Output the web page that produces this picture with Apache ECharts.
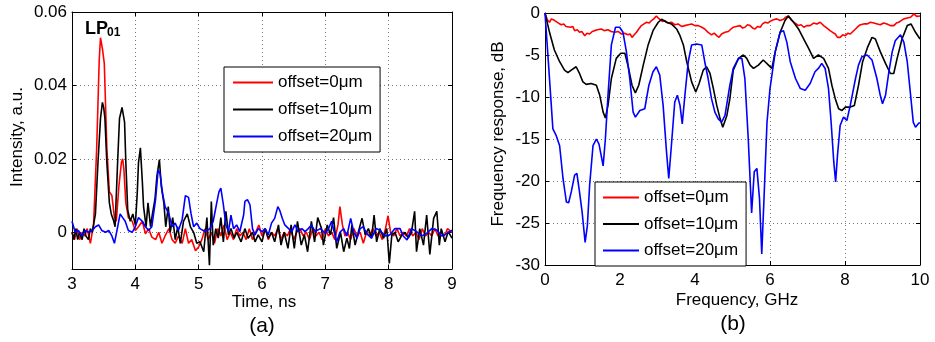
<!DOCTYPE html>
<html>
<head>
<meta charset="utf-8">
<script src="https://cdn.jsdelivr.net/npm/echarts@6/dist/echarts.min.js"></script>
<style>
  html, body { margin: 0; padding: 0; background: #fff; }
  #chart { width: 935px; height: 342px; }
</style>
</head>
<body>
<div id="chart"></div>
<script>
// series names (legend)
const names = ['offset=0μm', 'offset=10μm', 'offset=20μm'];
const colors = ['#ff0000', '#000000', '#0000ff'];

// (a) impulse response, [time ns, intensity a.u.]
const pulse0 = [[3.00,0.000],[3.04,-0.002],[3.08,0.001],[3.12,-0.002],[3.16,0.000],[3.20,-0.001],[3.24,0.001],[3.29,-0.003],[3.34,0.002],[3.39,0.023],[3.43,0.047],[3.45,0.053],[3.48,0.050],[3.51,0.046],[3.55,0.023],[3.59,0.011],[3.63,0.010],[3.67,0.004],[3.70,0.003],[3.74,0.0125],[3.78,0.019],[3.80,0.020],[3.82,0.017],[3.85,0.008],[3.89,0.004],[3.95,0.003],[4.00,0.0005],[4.05,0.0015],[4.11,0.003],[4.16,-0.0004],[4.21,0.001],[4.26,-0.0013],[4.32,-0.002],[4.37,0.000],[4.42,-0.003],[4.47,-0.001],[4.53,0.001],[4.58,-0.002],[4.63,-0.003],[4.68,-0.001],[4.74,-0.003],[4.79,0.001],[4.84,-0.003],[4.89,-0.002],[4.95,-0.005],[5.00,-0.004],[5.05,-0.002],[5.10,0.001],[5.15,-0.002],[5.20,0.000],[5.25,-0.003],[5.30,0.001],[5.35,-0.001],[5.40,0.002],[5.45,-0.002],[5.50,0.000],[5.55,-0.002],[5.60,0.001],[5.65,-0.001],[5.70,0.000],[5.75,-0.002],[5.80,0.001],[5.85,-0.002],[5.90,0.000],[5.95,0.002],[6.00,-0.001],[6.05,0.001],[6.10,-0.002],[6.15,0.000],[6.20,-0.001],[6.25,0.001],[6.30,-0.002],[6.35,0.000],[6.40,-0.001],[6.45,0.001],[6.50,-0.002],[6.55,0.000],[6.60,0.001],[6.65,-0.001],[6.70,0.000],[6.75,-0.002],[6.80,0.001],[6.85,-0.001],[6.90,0.000],[6.95,-0.002],[7.00,0.001],[7.05,-0.001],[7.10,0.000],[7.15,-0.002],[7.20,0.002],[7.23,0.007],[7.27,0.002],[7.31,-0.001],[7.35,0.000],[7.40,-0.002],[7.45,0.001],[7.50,-0.001],[7.55,0.000],[7.60,-0.003],[7.65,0.000],[7.70,-0.001],[7.75,0.001],[7.80,-0.001],[7.85,0.000],[7.90,-0.002],[7.95,0.001],[7.99,0.0045],[8.03,0.000],[8.08,-0.001],[8.13,0.001],[8.18,-0.001],[8.23,0.000],[8.28,-0.001],[8.33,0.001],[8.38,-0.001],[8.43,0.000],[8.48,-0.002],[8.53,0.001],[8.58,-0.001],[8.63,0.000],[8.68,-0.001],[8.73,0.001],[8.78,-0.001],[8.83,0.000],[8.88,-0.001],[8.93,0.001],[9.00,0.000]];
const pulse10 = [[3.00,0.000],[3.03,-0.002],[3.06,0.001],[3.09,-0.002],[3.12,0.000],[3.16,-0.002],[3.19,0.001],[3.22,-0.001],[3.26,-0.002],[3.29,0.001],[3.32,0.000],[3.37,0.005],[3.41,0.019],[3.45,0.031],[3.48,0.0354],[3.50,0.034],[3.52,0.031],[3.55,0.019],[3.59,0.008],[3.62,0.005],[3.66,0.003],[3.68,0.0015],[3.72,0.019],[3.75,0.031],[3.79,0.034],[3.83,0.030],[3.85,0.019],[3.88,0.006],[3.92,0.003],[3.96,0.005],[4.00,0.002],[4.03,0.0106],[4.05,0.019],[4.08,0.023],[4.11,0.014],[4.13,0.007],[4.17,0.0015],[4.20,0.008],[4.24,0.0015],[4.27,0.005],[4.31,0.009],[4.34,0.0152],[4.38,0.0198],[4.41,0.0125],[4.45,0.008],[4.48,0.0015],[4.52,0.007],[4.55,0.000],[4.59,0.004],[4.63,-0.002],[4.67,0.0015],[4.71,-0.003],[4.76,0.003],[4.82,0.005],[4.87,0.0015],[4.92,0.000],[4.97,-0.003],[5.02,-0.0026],[5.08,-0.0053],[5.13,0.004],[5.17,-0.009],[5.20,0.0084],[5.23,-0.0035],[5.27,0.001],[5.31,-0.0016],[5.35,0.004],[5.39,-0.0026],[5.43,0.0057],[5.47,-0.0007],[5.51,0.001],[5.56,-0.0016],[5.60,0.000],[5.67,-0.0026],[5.73,0.001],[5.78,-0.0016],[5.85,0.000],[5.89,-0.0026],[5.94,-0.0007],[6.00,-0.0026],[6.05,0.001],[6.10,-0.0016],[6.15,0.000],[6.20,-0.0026],[6.26,0.002],[6.30,-0.0035],[6.35,0.000],[6.41,-0.0044],[6.46,0.002],[6.51,-0.0044],[6.56,0.003],[6.62,-0.0035],[6.67,-0.0007],[6.72,-0.0053],[6.78,0.003],[6.83,-0.0026],[6.88,0.004],[6.94,0.001],[6.97,-0.0035],[7.03,0.002],[7.08,-0.0007],[7.13,0.004],[7.18,-0.0044],[7.24,0.000],[7.29,-0.0053],[7.34,-0.0016],[7.38,-0.0044],[7.42,0.002],[7.47,-0.0035],[7.52,0.000],[7.58,0.0038],[7.63,-0.0007],[7.68,0.001],[7.73,-0.0016],[7.77,0.0047],[7.81,-0.0026],[7.86,0.001],[7.92,-0.0016],[7.97,0.001],[8.01,-0.0085],[8.05,-0.0007],[8.10,0.000],[8.15,-0.0026],[8.21,-0.0007],[8.26,0.000],[8.31,-0.0016],[8.36,0.000],[8.41,0.0057],[8.44,-0.0053],[8.49,0.001],[8.55,-0.0035],[8.60,0.0047],[8.65,-0.006],[8.71,0.0038],[8.76,0.0057],[8.80,-0.0035],[8.83,0.001],[8.89,-0.0026],[8.94,0.0002],[9.00,-0.0016]];
const pulse20 = [[3.00,0.003],[3.05,0.000],[3.10,0.0005],[3.16,-0.001],[3.21,0.0005],[3.26,0.000],[3.32,0.0005],[3.37,0.0015],[3.42,0.002],[3.47,0.0005],[3.53,0.000],[3.58,0.0005],[3.63,-0.001],[3.67,-0.003],[3.71,0.0005],[3.76,0.005],[3.80,0.004],[3.84,0.003],[3.89,0.0005],[3.95,0.000],[4.00,0.0015],[4.05,0.004],[4.11,0.003],[4.16,0.0015],[4.21,0.0005],[4.26,0.0015],[4.32,0.009],[4.36,0.017],[4.39,0.016],[4.43,0.0106],[4.47,0.007],[4.53,0.005],[4.58,0.0015],[4.63,0.0025],[4.68,0.0005],[4.74,0.0035],[4.79,0.010],[4.84,0.0095],[4.88,0.005],[4.92,0.0015],[4.97,0.0025],[5.02,0.001],[5.10,0.0002],[5.18,0.001],[5.23,0.003],[5.29,0.0084],[5.32,0.011],[5.35,0.012],[5.39,0.0075],[5.43,0.002],[5.47,0.0002],[5.51,0.0047],[5.55,0.001],[5.60,0.002],[5.65,0.0002],[5.71,0.0047],[5.73,0.0084],[5.77,0.0089],[5.81,0.0075],[5.85,0.001],[5.89,-0.0007],[5.94,0.001],[6.00,0.0002],[6.05,0.001],[6.10,-0.0007],[6.15,0.0025],[6.20,0.0038],[6.25,0.007],[6.28,0.006],[6.32,0.0038],[6.36,0.002],[6.42,0.001],[6.47,0.0002],[6.52,0.002],[6.57,0.0002],[6.63,0.001],[6.68,0.0002],[6.73,0.001],[6.78,0.002],[6.84,0.0002],[6.92,0.001],[7.00,-0.0003],[7.05,0.001],[7.10,0.003],[7.14,0.000],[7.18,-0.0026],[7.23,0.000],[7.29,0.001],[7.34,-0.001],[7.40,0.0038],[7.45,0.000],[7.50,-0.0016],[7.55,0.001],[7.60,0.0015],[7.66,-0.0005],[7.73,-0.0016],[7.80,0.001],[7.86,0.0006],[7.94,-0.001],[8.02,-0.0007],[8.10,0.001],[8.18,0.001],[8.23,-0.001],[8.29,-0.0021],[8.36,0.001],[8.44,0.0002],[8.52,-0.001],[8.60,-0.0003],[8.68,0.001],[8.76,0.0006],[8.84,-0.001],[8.92,-0.0003],[9.00,0.0006]];

// (b) frequency response, [frequency GHz, dB]
const resp0 = [[0,0],[0.06,-0.8],[0.12,-1.1],[0.17,-0.7],[0.21,-0.6],[0.26,-0.9],[0.30,-1.1],[0.36,-1.2],[0.43,-1.4],[0.50,-1.3],[0.56,-1.6],[0.61,-1.5],[0.68,-1.7],[0.74,-1.6],[0.79,-2.1],[0.86,-2.0],[0.92,-2.3],[0.98,-2.2],[1.06,-2.7],[1.12,-2.4],[1.19,-2.5],[1.26,-2.2],[1.32,-2.1],[1.40,-2.0],[1.50,-1.9],[1.58,-2.1],[1.68,-2.0],[1.76,-2.2],[1.86,-2.3],[1.95,-2.2],[2.04,-2.5],[2.12,-2.4],[2.21,-2.6],[2.27,-2.5],[2.32,-2.9],[2.38,-2.6],[2.44,-2.3],[2.50,-1.9],[2.57,-1.5],[2.64,-1.3],[2.71,-1.1],[2.78,-1.2],[2.84,-0.9],[2.90,-0.7],[2.97,-0.35],[3.02,-0.6],[3.06,-0.7],[3.13,-1.0],[3.20,-0.9],[3.28,-1.2],[3.37,-1.1],[3.46,-1.4],[3.55,-1.3],[3.64,-1.6],[3.73,-1.5],[3.82,-1.4],[3.91,-1.3],[4.00,-1.5],[4.09,-1.5],[4.18,-1.7],[4.26,-1.9],[4.35,-2.3],[4.44,-2.6],[4.51,-2.4],[4.58,-2.7],[4.64,-2.9],[4.71,-2.5],[4.80,-2.3],[4.89,-2.2],[4.96,-1.9],[5.02,-1.7],[5.10,-1.6],[5.20,-1.5],[5.27,-1.8],[5.33,-1.7],[5.40,-1.4],[5.47,-1.5],[5.54,-1.8],[5.60,-1.9],[5.67,-1.6],[5.74,-1.7],[5.80,-1.3],[5.87,-1.1],[5.94,-1.2],[6.00,-1.0],[6.09,-0.8],[6.18,-0.7],[6.27,-0.9],[6.36,-0.75],[6.42,-0.5],[6.49,-0.35],[6.56,-0.8],[6.63,-1.1],[6.70,-1.3],[6.76,-1.5],[6.83,-1.4],[6.90,-1.7],[6.98,-1.5],[7.07,-1.5],[7.16,-1.2],[7.25,-1.3],[7.34,-1.1],[7.43,-1.5],[7.52,-1.8],[7.60,-2.1],[7.67,-2.3],[7.74,-2.5],[7.80,-2.9],[7.87,-2.9],[7.94,-2.6],[8.01,-2.7],[8.08,-2.4],[8.14,-2.5],[8.21,-2.2],[8.28,-1.9],[8.35,-1.6],[8.41,-1.4],[8.50,-1.3],[8.59,-1.3],[8.68,-1.1],[8.77,-1.2],[8.86,-1.3],[8.94,-1.4],[9.03,-1.2],[9.12,-1.3],[9.21,-1.5],[9.30,-1.5],[9.37,-1.2],[9.43,-1.1],[9.50,-0.9],[9.57,-0.7],[9.66,-0.6],[9.75,-0.5],[9.84,-0.1],[9.91,-0.4],[10,-0.35]];
const resp10 = [[0,0],[0.12,-2.3],[0.25,-4.4],[0.39,-5.8],[0.52,-6.8],[0.61,-7.1],[0.70,-6.8],[0.83,-6.4],[0.92,-7.2],[1.01,-8.2],[1.10,-8.5],[1.23,-8.4],[1.37,-8.6],[1.46,-9.8],[1.55,-11.8],[1.61,-12.5],[1.68,-11],[1.77,-7.8],[1.90,-5.4],[2.02,-4.8],[2.13,-4.8],[2.22,-6.4],[2.32,-8.6],[2.41,-9.5],[2.50,-8.6],[2.62,-6.2],[2.75,-3.8],[2.88,-2.1],[3.02,-1.1],[3.11,-0.75],[3.24,-1.1],[3.37,-1.3],[3.51,-1.9],[3.60,-2.7],[3.69,-3.8],[3.78,-5.8],[3.91,-8.2],[4.02,-9.4],[4.11,-8.4],[4.22,-6.8],[4.31,-6.4],[4.40,-7.2],[4.49,-9],[4.58,-11],[4.67,-12.6],[4.74,-13.6],[4.85,-12.2],[4.93,-10.2],[5.02,-6.8],[5.16,-5.4],[5.29,-5],[5.38,-5.4],[5.47,-6.2],[5.56,-6.6],[5.69,-6.2],[5.82,-5.6],[5.96,-6.2],[6.05,-6.6],[6.14,-4.6],[6.27,-2.3],[6.40,-0.9],[6.49,-0.35],[6.63,-1.1],[6.76,-1.9],[6.90,-3.1],[7.03,-4.2],[7.16,-5.4],[7.29,-5],[7.43,-5.4],[7.56,-6.6],[7.65,-8.6],[7.74,-10.2],[7.83,-11.4],[7.92,-11.6],[8.01,-11.2],[8.14,-11.2],[8.25,-11],[8.36,-8.6],[8.47,-5.8],[8.60,-4.1],[8.72,-2.9],[8.81,-3.1],[8.94,-4.6],[9.08,-6],[9.21,-7.2],[9.30,-7.2],[9.39,-5.4],[9.52,-3.1],[9.66,-1.5],[9.76,-1.3],[9.88,-2.3],[10,-3.1]];
const resp20 = [[0,0],[0.1,-6.5],[0.21,-13.8],[0.3,-14.6],[0.34,-14.4],[0.39,-15.8],[0.48,-19.7],[0.57,-22.5],[0.63,-22.6],[0.7,-21.3],[0.79,-19.3],[0.85,-19.1],[0.92,-21.3],[0.99,-23.7],[1.07,-27.3],[1.13,-25.3],[1.19,-20.5],[1.28,-15.8],[1.37,-15],[1.44,-15.6],[1.55,-18.2],[1.61,-15],[1.68,-9.8],[1.77,-3.8],[1.88,-1.7],[1.99,-1.7],[2.08,-2.3],[2.17,-4.6],[2.26,-7.8],[2.35,-11.8],[2.41,-12.4],[2.53,-11.6],[2.66,-11.4],[2.77,-8.6],[2.88,-7],[2.97,-6.4],[3.06,-7.4],[3.15,-11],[3.24,-16.5],[3.3,-19.7],[3.37,-15.8],[3.46,-10.6],[3.53,-9.8],[3.6,-11],[3.66,-13.2],[3.73,-9.8],[3.82,-5.8],[3.91,-3.8],[4.04,-3.7],[4.18,-3.8],[4.26,-5.8],[4.35,-7.8],[4.44,-10.2],[4.53,-11.8],[4.62,-12.6],[4.71,-13],[4.8,-12.2],[4.93,-8.6],[5.02,-6.6],[5.16,-5.4],[5.25,-5.4],[5.33,-7.8],[5.42,-15],[5.51,-23.8],[5.58,-18.9],[5.65,-18.5],[5.72,-22.1],[5.78,-28.7],[5.84,-22.1],[5.92,-13],[6.0,-9],[6.14,-4.6],[6.27,-2.3],[6.36,-2.1],[6.45,-3.5],[6.54,-5.8],[6.68,-7.8],[6.81,-9],[6.94,-9.2],[7.07,-8.4],[7.2,-7],[7.29,-6.6],[7.38,-6],[7.47,-6.6],[7.56,-9],[7.63,-13],[7.7,-17.7],[7.75,-20.1],[7.8,-16.9],[7.87,-13.4],[7.96,-12.4],[8.05,-12.8],[8.14,-11],[8.28,-7.8],[8.36,-6.2],[8.45,-5.2],[8.59,-5],[8.72,-5.6],[8.85,-7.8],[8.94,-9.8],[9.0,-10.8],[9.08,-9.8],[9.17,-7],[9.26,-4.6],[9.34,-3.3],[9.48,-2.6],[9.57,-3.5],[9.66,-5.8],[9.75,-9.8],[9.82,-13],[9.88,-13.6],[9.97,-13.1],[10,-13.1]];

// tick values
const intensityTicks = [0, 0.02, 0.04, 0.06];

const FONT = 'Arial, "Liberation Sans", Helvetica, sans-serif';
const chart = echarts.init(document.getElementById('chart'), null, { renderer: 'canvas' });

const grid = { lineStyle: { color: '#777', type: [1, 3], width: 1 } };
const tickLbl = { color: '#000', fontSize: 17, fontFamily: FONT };

function valAxis(gi, pos, min, max, interval, opts) {
  const main = pos === 'bottom' || pos === 'left';
  return Object.assign({
    type: 'value', gridIndex: gi, position: pos, min: min, max: max, interval: interval,
    axisLine: { show: true, onZero: false, lineStyle: { color: '#000', width: 1 } },
    axisTick: { show: true, inside: true, length: 4, lineStyle: { color: '#000' } },
    axisLabel: main ? Object.assign({ margin: 7 }, tickLbl) : { show: false },
    splitLine: main ? Object.assign({ show: true }, grid) : { show: false }
  }, opts || {});
}

const yTickA = { show: true, inside: true, length: 4, lineStyle: { color: '#000' }, customValues: intensityTicks };

function makeSeries(data, i, xi, yi) {
  return {
    name: names[i], type: 'line', data: data, xAxisIndex: xi, yAxisIndex: yi,
    symbol: 'none', smooth: false, animation: false,
    lineStyle: { color: colors[i], width: 1.6 }, itemStyle: { color: colors[i] }, z: 2 + i
  };
}

// legend shows only the line sample (symbol hidden)
function legendAt(left, top, w, h, gap, pad) {
  return {
    left: left, top: top, orient: 'vertical', data: names,
    itemWidth: w, itemHeight: h, itemGap: gap, padding: pad,
    borderColor: '#000', borderWidth: 1, backgroundColor: '#fff',
    itemStyle: { opacity: 0 },
    textStyle: { color: '#000', fontSize: 17, fontFamily: FONT },
    selectedMode: false
  };
}

chart.setOption({
  animation: false,
  grid: [
    { left: 72, top: 12, width: 380, height: 257 },
    { left: 545, top: 13, width: 375, height: 252 }
  ],
  xAxis: [
    valAxis(0, 'bottom', 3, 9, 1),
    valAxis(0, 'top', 3, 9, 1),
    valAxis(1, 'bottom', 0, 10, 2),
    valAxis(1, 'top', 0, 10, 2)
  ],
  yAxis: [
    valAxis(0, 'left', -0.01, 0.06, 0.01, {
      axisTick: yTickA,
      axisLabel: Object.assign({ margin: 5, customValues: intensityTicks,
        formatter: v => (Math.abs(v) < 1e-9 ? '0' : v.toFixed(2)) }, tickLbl)
    }),
    valAxis(0, 'right', -0.01, 0.06, 0.01, { axisTick: yTickA }),
    valAxis(1, 'left', -30, 0, 5, { axisLabel: Object.assign({ margin: 5 }, tickLbl) }),
    valAxis(1, 'right', -30, 0, 5)
  ],
  legend: [
    legendAt(224, 67, 40, 14, 10, [7, 8, 7, 8]),
    legendAt(595, 182, 36, 14, 9.5, [7, 8, 7, 7])
  ],
  series: [
    makeSeries(pulse0, 0, 0, 0),
    makeSeries(pulse10, 1, 0, 0),
    makeSeries(pulse20, 2, 0, 0),
    makeSeries(resp0, 0, 2, 2),
    makeSeries(resp10, 1, 2, 2),
    makeSeries(resp20, 2, 2, 2)
  ],
  graphic: [
    { type: 'text', left: 85, top: 20, style: { text: 'LP', font: 'bold 18px ' + FONT, fill: '#000' } },
    { type: 'text', left: 107, top: 27, style: { text: '01', font: 'bold 12px ' + FONT, fill: '#000' } },
    { type: 'text', x: 17, y: 137, rotation: Math.PI / 2,
      style: { text: 'Intensity, a.u.', font: '17px ' + FONT, fill: '#000', align: 'center', verticalAlign: 'middle' } },
    { type: 'text', x: 264, y: 302,
      style: { text: 'Time, ns', font: '17px ' + FONT, fill: '#000', align: 'center', verticalAlign: 'middle' } },
    { type: 'text', x: 262, y: 326,
      style: { text: '(a)', font: '21px ' + FONT, fill: '#000', align: 'center', verticalAlign: 'middle' } },
    { type: 'text', x: 498, y: 134, rotation: Math.PI / 2,
      style: { text: 'Frequency response, dB', font: '17px ' + FONT, fill: '#000', align: 'center', verticalAlign: 'middle' } },
    { type: 'text', x: 737, y: 300,
      style: { text: 'Frequency, GHz', font: '17px ' + FONT, fill: '#000', align: 'center', verticalAlign: 'middle' } },
    { type: 'text', x: 733, y: 324,
      style: { text: '(b)', font: '21px ' + FONT, fill: '#000', align: 'center', verticalAlign: 'middle' } }
  ]
});
</script>
</body>
</html>
